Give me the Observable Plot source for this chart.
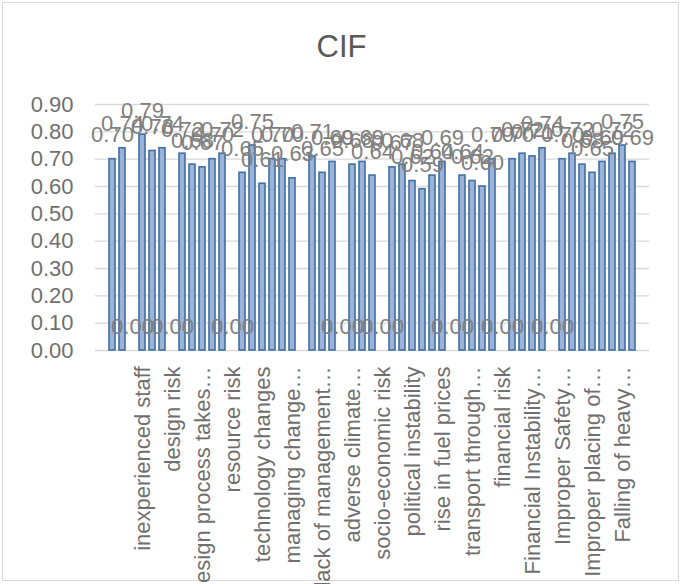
<!DOCTYPE html>
<html>
<head>
<meta charset="utf-8">
<script src="https://cdn.jsdelivr.net/npm/d3@7"></script>
<script src="https://cdn.jsdelivr.net/npm/@observablehq/plot@0.6"></script>
<style>
  body { margin: 0; background: #fff; font-family: "Liberation Sans", Arial, sans-serif; }
  #chart { position: relative; width: 683px; height: 584px; overflow: hidden; background: #fff; }
  #frame { position: absolute; left: 2px; top: 2px; width: 677px; height: 579px; border: 1px solid #d9d9d9; box-sizing: border-box; }
  #title { position: absolute; left: 0; top: 31px; width: 683px; text-align: center; font-size: 31px; line-height: 31px; color: #595959; }
  #plot { position: absolute; left: 0; top: 80px; }
</style>
</head>
<body>
<div id="chart">
  <div id="frame"></div>
  <div id="title">CIF</div>
  <div id="plot"></div>
</div>
<script>
// CIF value for each category, in order; null = blank cell (no bar, no label)
const values = [
  0.70, 0.74, 0, 0.79, 0.73, 0.74, 0, 0.72, 0.68, 0.67,
  0.70, 0.72, 0, 0.65, 0.75, 0.61, 0.70, 0.70, 0.63, null,
  0.71, 0.65, 0.69, 0, 0.68, 0.69, 0.64, 0, 0.67, 0.68,
  0.62, 0.59, 0.64, 0.69, 0, 0.64, 0.62, 0.60, 0.70, 0,
  0.70, 0.72, 0.71, 0.74, 0, 0.70, 0.72, 0.68, 0.65, 0.69,
  0.72, 0.75, 0.69
];

// Category names shown on the axis (every third category, starting at the fourth)
const categoryLabels = [
  "inexperienced staff", "design risk", "design process takes…", "resource risk",
  "technology changes", "managing change…", "lack of management…", "adverse climate…",
  "socio-economic risk", "political instability", "rise in fuel prices", "transport through…",
  "financial risk", "Financial Instability…", "Improper Safety…", "Improper placing of…",
  "Falling of heavy…"
];
const labelStart = 3;
const labelStep = 3;

const yTicks = [0, 0.1, 0.2, 0.3, 0.4, 0.5, 0.6, 0.7, 0.8, 0.9];

const labelSlots = categoryLabels.map((_, k) => labelStart + k * labelStep);
const labelBySlot = new Map(labelSlots.map((s, k) => [s, categoryLabels[k]]));
const rows = values.map((v, i) => ({i, v})).filter(d => d.v != null);
const fmt = d3.format(".2f");

const chart = Plot.plot({
  width: 683,
  height: 504,
  marginLeft: 95,
  marginRight: 34,
  marginTop: 24,
  marginBottom: 234,
  style: {fontFamily: "'Liberation Sans', Arial, sans-serif", fontSize: "22px", background: "transparent", overflow: "visible"},
  x: {type: "band", domain: d3.range(values.length), paddingInner: 0.4, paddingOuter: 0.2, axis: null},
  y: {domain: [0, 0.9], axis: null},
  marks: [
    Plot.ruleY(yTicks, {stroke: "#d9d9d9", strokeWidth: 1.3}),
    Plot.axisY({ticks: yTicks, tickFormat: fmt, tickSize: 0, tickPadding: 22, fill: "#6f6f6f", fontSize: 22, label: null}),
    Plot.axisX({ticks: labelSlots, tickFormat: i => labelBySlot.get(i) ?? "", tickRotate: -90, tickSize: 0, tickPadding: 16, fill: "#6f6f6f", fontSize: 22, label: null}),
    Plot.barY(rows, {x: "i", y: "v", fill: "#9cb2d6", stroke: "#3f6fa3", strokeWidth: 1.6}),
    Plot.text(rows, {x: "i", y: "v", text: d => fmt(d.v), dy: -17, lineAnchor: "bottom", fill: "#7f7f7f", fontSize: 22})
  ]
});
document.getElementById("plot").appendChild(chart);
</script>
</body>
</html>
